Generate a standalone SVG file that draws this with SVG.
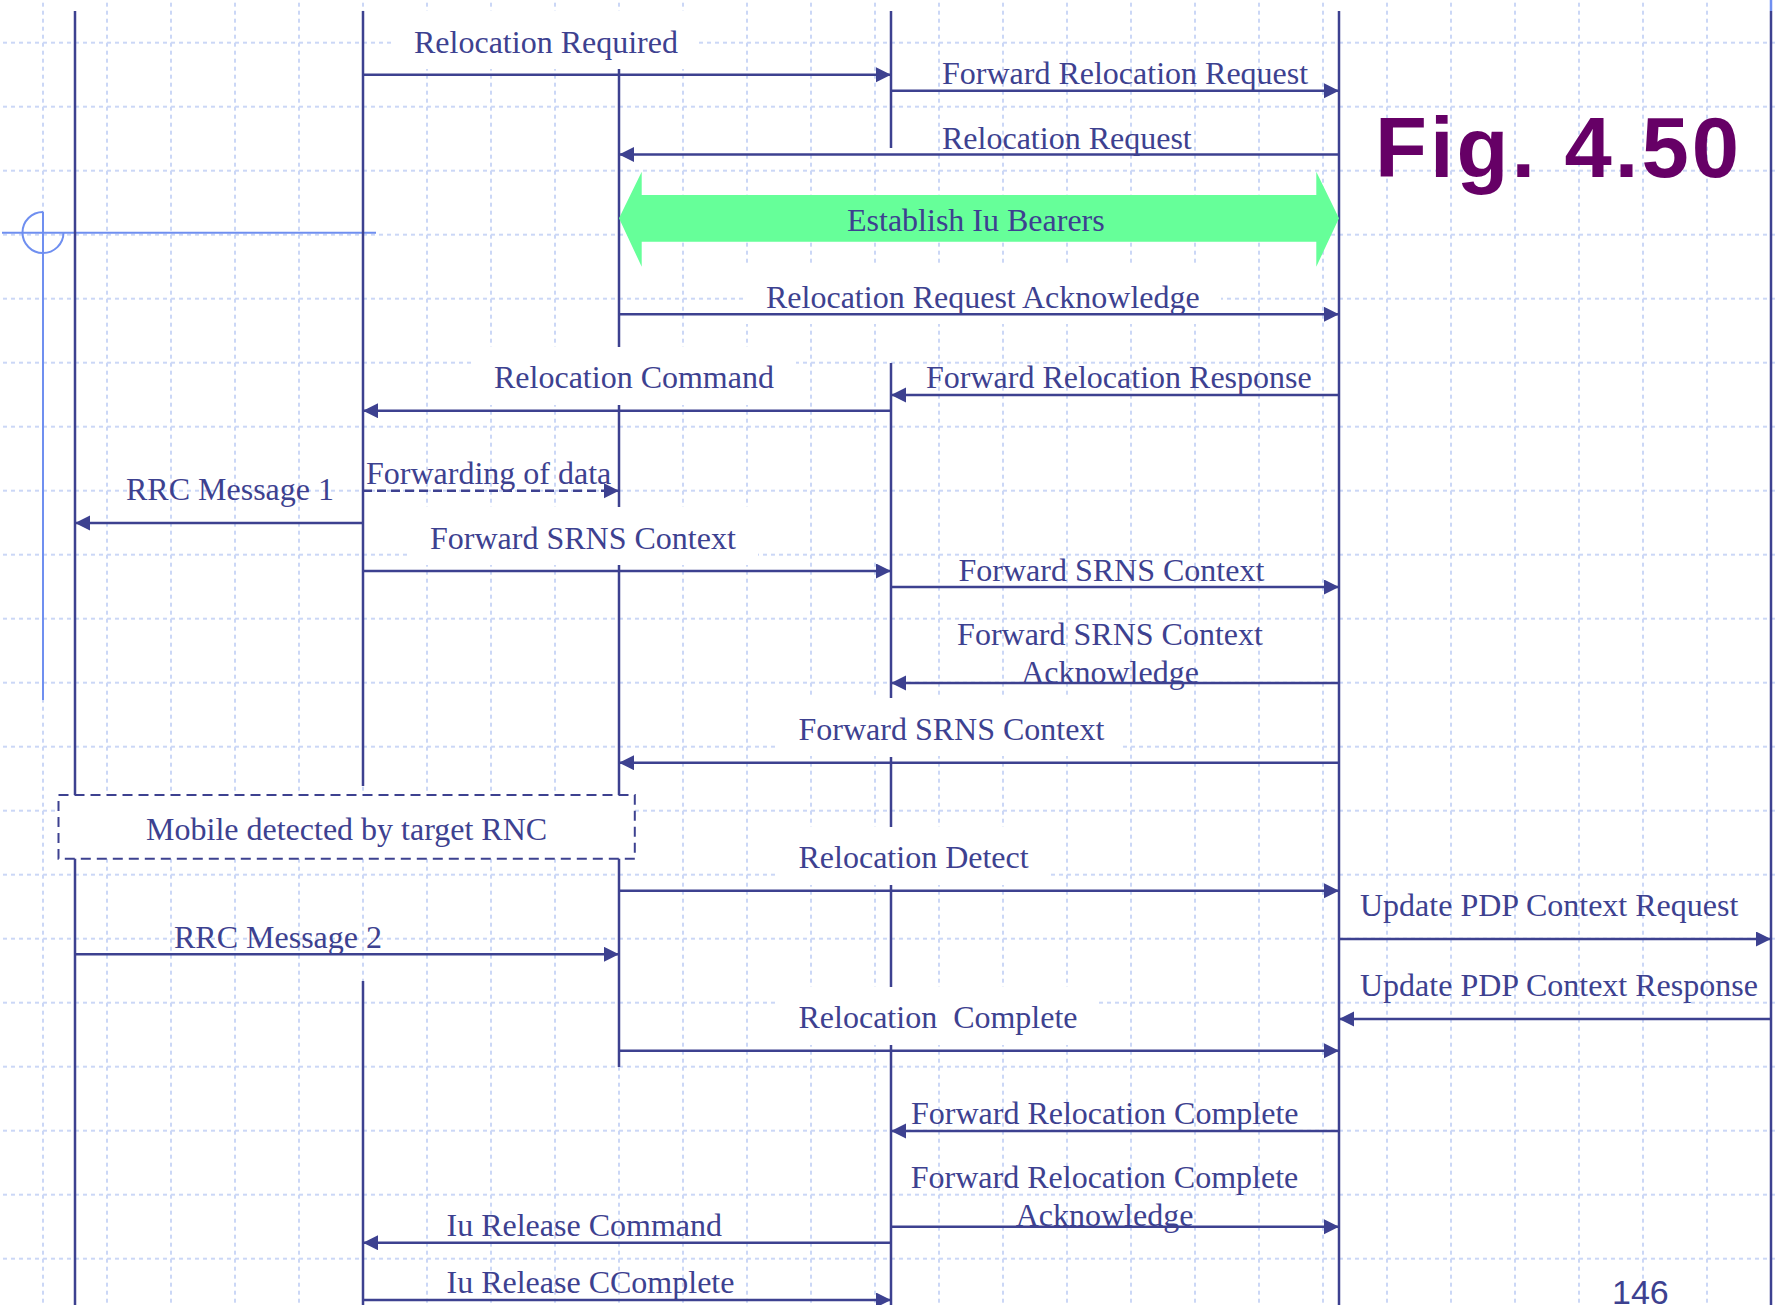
<svg xmlns="http://www.w3.org/2000/svg" width="1778" height="1305" viewBox="0 0 1778 1305">
<style>
.life{stroke:#3d4190;stroke-width:2.5;fill:none}
.msg{stroke:#3d4190;stroke-width:2.5;fill:none;marker-end:url(#ah)}
.dash{stroke-dasharray:9 5}
.lbl{font-family:"Liberation Serif","Times New Roman",serif;font-size:32px;fill:#3d4190;white-space:pre}
.mid{text-anchor:middle}
.wb{fill:#ffffff;stroke:none}
.xh{stroke:#6f8ff0;stroke-width:2;fill:none}
</style>
<defs>
<pattern id="grid" x="11" y="10.7" width="64" height="64" patternUnits="userSpaceOnUse">
<line x1="32" y1="0" x2="32" y2="64" stroke="#cbd7f6" stroke-width="2" stroke-dasharray="4 4"/>
<line x1="0" y1="32" x2="64" y2="32" stroke="#cbd7f6" stroke-width="2" stroke-dasharray="4 4"/>
</pattern>
<marker id="ah" markerUnits="userSpaceOnUse" markerWidth="16" markerHeight="16" refX="15" refY="7.5" orient="auto">
<path d="M0,0 L15,7.5 L0,15 z" fill="#3d4190"/>
</marker>
</defs>
<rect width="1778" height="1305" fill="#ffffff"/>
<rect width="1778" height="1305" fill="url(#grid)"/>
<g id="label-backgrounds">
<rect class="wb" x="393" y="11" width="305" height="58"/>
<rect class="wb" x="745" y="266" width="476" height="58"/>
<rect class="wb" x="473" y="347" width="323" height="58"/>
<rect class="wb" x="409" y="507" width="349" height="58"/>
<rect class="wb" x="777" y="698" width="346" height="58"/>
<rect class="wb" x="777" y="827" width="271" height="58"/>
<rect class="wb" x="777" y="987" width="321" height="58"/>
</g>
<g id="crosshair">
<line class="xh" x1="2" y1="232.7" x2="376" y2="232.7"/>
<line class="xh" x1="43" y1="212" x2="43" y2="700"/>
<path class="xh" d="M43,212 A20.5,20.5 0 1 0 63.5,232.7"/>
<line x1="1771" y1="0" x2="1771" y2="11" stroke="#6f8ff0" stroke-width="2.5"/>
</g>
<g id="lifeline-1"><line class="life" x1="75" y1="11" x2="75" y2="1305"/></g>
<g id="lifeline-2"><path class="life" d="M363,11 V786 M363,981 V1305"/></g>
<g id="lifeline-3"><path class="life" d="M619,69 V347 M619,405 V507 M619,565 V1067"/></g>
<g id="lifeline-4"><path class="life" d="M891,11 V148 M891,363 V698 M891,757 V827 M891,885 V987 M891,1045 V1305"/></g>
<g id="lifeline-5"><line class="life" x1="1339" y1="11" x2="1339" y2="1305"/></g>
<g id="lifeline-6"><line class="life" x1="1771" y1="11" x2="1771" y2="1305"/></g>
<g id="bearers">
<polygon points="619,218.3 641.7,171.7 641.7,195 1316.3,195 1316.3,171.7 1339,218.3 1316.3,266.7 1316.3,241.7 641.7,241.7 641.7,266.7" fill="#66ff99"/>
<text class="lbl" x="847" y="231">Establish Iu Bearers</text>
</g>
<g id="mobile-detected">
<rect x="58.5" y="795" width="576.3" height="63.7" fill="#ffffff" stroke="#3d4190" stroke-width="2" stroke-dasharray="10 6"/>
<text class="lbl mid" x="346.6" y="839.5">Mobile detected by target RNC</text>
</g>
<g id="connectors">
<line class="msg" x1="363" y1="74.7" x2="891" y2="74.7"/>
<line class="msg" x1="891" y1="90.7" x2="1339" y2="90.7"/>
<line class="msg" x1="1339" y1="154.5" x2="619" y2="154.5"/>
<line class="msg" x1="619" y1="314.3" x2="1339" y2="314.3"/>
<line class="msg" x1="891" y1="410.7" x2="363" y2="410.7"/>
<line class="msg" x1="1339" y1="395" x2="891" y2="395"/>
<line class="msg dash" x1="363" y1="490.7" x2="619" y2="490.7"/>
<line class="msg" x1="363" y1="523" x2="75" y2="523"/>
<line class="msg" x1="363" y1="571" x2="891" y2="571"/>
<line class="msg" x1="891" y1="587" x2="1339" y2="587"/>
<line class="msg" x1="1339" y1="683" x2="891" y2="683"/>
<line class="msg" x1="1339" y1="762.7" x2="619" y2="762.7"/>
<line class="msg" x1="619" y1="890.7" x2="1339" y2="890.7"/>
<line class="msg" x1="1339" y1="939" x2="1771" y2="939"/>
<line class="msg" x1="75" y1="954.3" x2="619" y2="954.3"/>
<line class="msg" x1="1771" y1="1019" x2="1339" y2="1019"/>
<line class="msg" x1="619" y1="1050.7" x2="1339" y2="1050.7"/>
<line class="msg" x1="1339" y1="1131" x2="891" y2="1131"/>
<line class="msg" x1="891" y1="1226.7" x2="1339" y2="1226.7"/>
<line class="msg" x1="891" y1="1242.7" x2="363" y2="1242.7"/>
<line class="msg" x1="363" y1="1300" x2="891" y2="1300"/>
</g>
<g id="labels">
<text class="lbl" x="414" y="52.5">Relocation Required</text>
<text class="lbl" x="942" y="84">Forward Relocation Request</text>
<text class="lbl" x="942" y="148.5">Relocation Request</text>
<text class="lbl" x="766" y="308">Relocation Request Acknowledge</text>
<text class="lbl" x="494" y="387.5">Relocation Command</text>
<text class="lbl" x="926" y="387.5">Forward Relocation Response</text>
<text class="lbl" x="366" y="484">Forwarding of data</text>
<text class="lbl" x="126" y="500">RRC Message 1</text>
<text class="lbl" x="430" y="548.5">Forward SRNS Context</text>
<text class="lbl" x="958.5" y="581">Forward SRNS Context</text>
<text class="lbl mid" x="1110" y="645">Forward SRNS Context</text>
<text class="lbl mid" x="1110" y="682.5">Acknowledge</text>
<text class="lbl" x="798.5" y="740">Forward SRNS Context</text>
<text class="lbl" x="798.5" y="868">Relocation Detect</text>
<text class="lbl" x="1360" y="916">Update PDP Context Request</text>
<text class="lbl" x="1360" y="996">Update PDP Context Response</text>
<text class="lbl" x="174" y="947.5">RRC Message 2</text>
<text class="lbl" x="798.5" y="1027.5" xml:space="preserve">Relocation  Complete</text>
<text class="lbl" x="911" y="1124">Forward Relocation Complete</text>
<text class="lbl mid" x="1104.5" y="1187.5">Forward Relocation Complete</text>
<text class="lbl mid" x="1104.5" y="1226">Acknowledge</text>
<text class="lbl" x="446.5" y="1236">Iu Release Command</text>
<text class="lbl" x="446.5" y="1292.5">Iu Release CComplete</text>
</g>
<g id="title">
<text x="1375" y="177.3" font-family="'Liberation Sans',Arial,sans-serif" font-weight="bold" font-size="85" fill="#660066" textLength="364" lengthAdjust="spacing">Fig. 4.50</text>
</g>
<g id="page-number">
<text x="1612" y="1304" font-family="'Liberation Sans',Arial,sans-serif" font-size="34" fill="#3d4190">146</text>
</g>
</svg>
